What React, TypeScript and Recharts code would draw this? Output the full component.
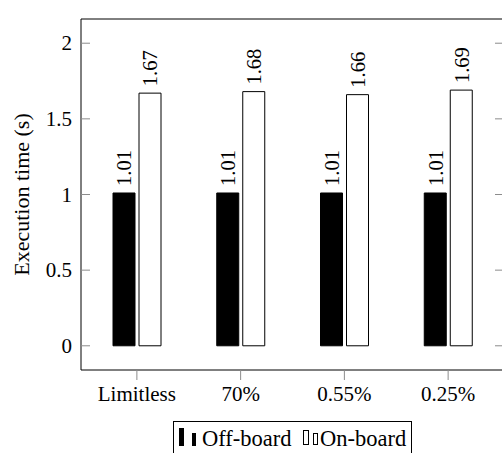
import { Bar, BarChart, LabelList, XAxis, YAxis } from "recharts";

const categories = ["Limitless", "70%", "0.55%", "0.25%"];
const offBoard = [1.01, 1.01, 1.01, 1.01];
const onBoard = [1.67, 1.68, 1.66, 1.69];
const yTicks = [0, 0.5, 1, 1.5, 2];

const data = categories.map((name, i) => ({
  name,
  offBoard: offBoard[i],
  onBoard: onBoard[i],
}));

const FONT = '"Liberation Serif", "Times New Roman", serif';
const TICK_GREY = "#8c8c8c";

// left axis: tick marks point into the plot, labels sit outside
function LeftTick({ x, y, payload }: any) {
  return (
    <g>
      <line x1={x} x2={x + 9} y1={y} y2={y} stroke={TICK_GREY} />
      <text
        x={x - 9}
        y={y}
        textAnchor="end"
        dominantBaseline="central"
        style={{ fontFamily: FONT, fontSize: 21 }}
        fill="#000"
      >
        {payload.value}
      </text>
    </g>
  );
}

// right axis: only inward tick marks
function RightTick({ x, y }: any) {
  return <line x1={x} x2={x - 9} y1={y} y2={y} stroke={TICK_GREY} />;
}

// rotated value above each bar
function ValueLabel({ x, y, width, value }: any) {
  const cx = x + width / 2;
  const ty = y - 7;
  return (
    <text
      x={cx}
      y={ty}
      dy={7.5}
      transform={`rotate(-90, ${cx}, ${ty})`}
      textAnchor="start"
      style={{ fontFamily: FONT, fontSize: 20.5 }}
      fill="#000"
    >
      {Number(value).toFixed(2)}
    </text>
  );
}

function YTitle({ viewBox }: any) {
  const cx = viewBox.x + 21;
  const cy = viewBox.y + viewBox.height / 2;
  return (
    <text
      x={cx}
      y={cy}
      transform={`rotate(-90, ${cx}, ${cy})`}
      textAnchor="middle"
      dominantBaseline="central"
      style={{ fontFamily: FONT, fontSize: 22 }}
      fill="#000"
    >
      Execution time (s)
    </text>
  );
}

export default function App() {
  return (
    <div
      style={{
        position: "fixed",
        left: 0,
        top: 0,
        width: 502,
        height: 453,
        overflow: "hidden",
        background: "#fff",
        fontFamily: FONT,
      }}
    >
      <BarChart
        width={510}
        height={453}
        data={data}
        margin={{ top: 9, right: 0, bottom: 53, left: 0 }}
        barSize={22}
        barGap={4}
      >
        <XAxis
          xAxisId="bottom"
          dataKey="name"
          height={30}
          interval={0}
          padding={{ left: 4, right: 4 }}
          tickSize={10}
          tickMargin={6}
          tickLine={{ stroke: TICK_GREY }}
          axisLine={{ stroke: "#000" }}
          tick={{ fill: "#000", fontSize: 21, fontFamily: FONT }}
        />
        <XAxis
          xAxisId="top"
          orientation="top"
          dataKey="name"
          height={10}
          interval={0}
          padding={{ left: 4, right: 4 }}
          tickSize={9}
          tick={false}
          tickLine={{ stroke: TICK_GREY }}
          axisLine={{ stroke: "#000" }}
        />
        <YAxis
          yAxisId="left"
          type="number"
          width={81}
          domain={[-0.16, 2.16]}
          ticks={yTicks}
          allowDataOverflow
          tickSize={0}
          tickMargin={0}
          tickLine={false}
          axisLine={{ stroke: "#000" }}
          tick={<LeftTick />}
          label={<YTitle />}
        />
        <YAxis
          yAxisId="right"
          orientation="right"
          type="number"
          width={6}
          domain={[-0.16, 2.16]}
          ticks={yTicks}
          allowDataOverflow
          tickSize={0}
          tickMargin={0}
          tickLine={false}
          axisLine={{ stroke: "#000" }}
          tick={<RightTick />}
        />
        <Bar
          xAxisId="bottom"
          yAxisId="left"
          dataKey="offBoard"
          fill="#000"
          stroke="#000"
          isAnimationActive={false}
        >
          <LabelList dataKey="offBoard" content={<ValueLabel />} />
        </Bar>
        <Bar
          xAxisId="bottom"
          yAxisId="left"
          dataKey="onBoard"
          fill="#fff"
          stroke="#000"
          strokeWidth={1}
          isAnimationActive={false}
        >
          <LabelList dataKey="onBoard" content={<ValueLabel />} />
        </Bar>
      </BarChart>

      {/* legend box under the plot */}
      <div
        style={{
          position: "absolute",
          left: 173,
          top: 421,
          width: 239,
          height: 36,
          border: "1px solid #000",
          boxSizing: "border-box",
        }}
      >
        <svg width={240} height={36} style={{ position: "absolute", left: -1, top: -1 }}>
          <rect x={6} y={7} width={5} height={18} fill="#000" />
          <rect x={19} y={12} width={4} height={13} fill="#000" />
          <text x={29} y={25} style={{ fontFamily: FONT, fontSize: 22.5 }} fill="#000">
            Off-board
          </text>
          <rect x={130.5} y={9.5} width={5} height={14} fill="#fff" stroke="#000" />
          <rect x={140.5} y={12.5} width={4} height={11} fill="#fff" stroke="#000" />
          <text x={147} y={25} style={{ fontFamily: FONT, fontSize: 22.5 }} fill="#000">
            On-board
          </text>
        </svg>
      </div>
    </div>
  );
}
